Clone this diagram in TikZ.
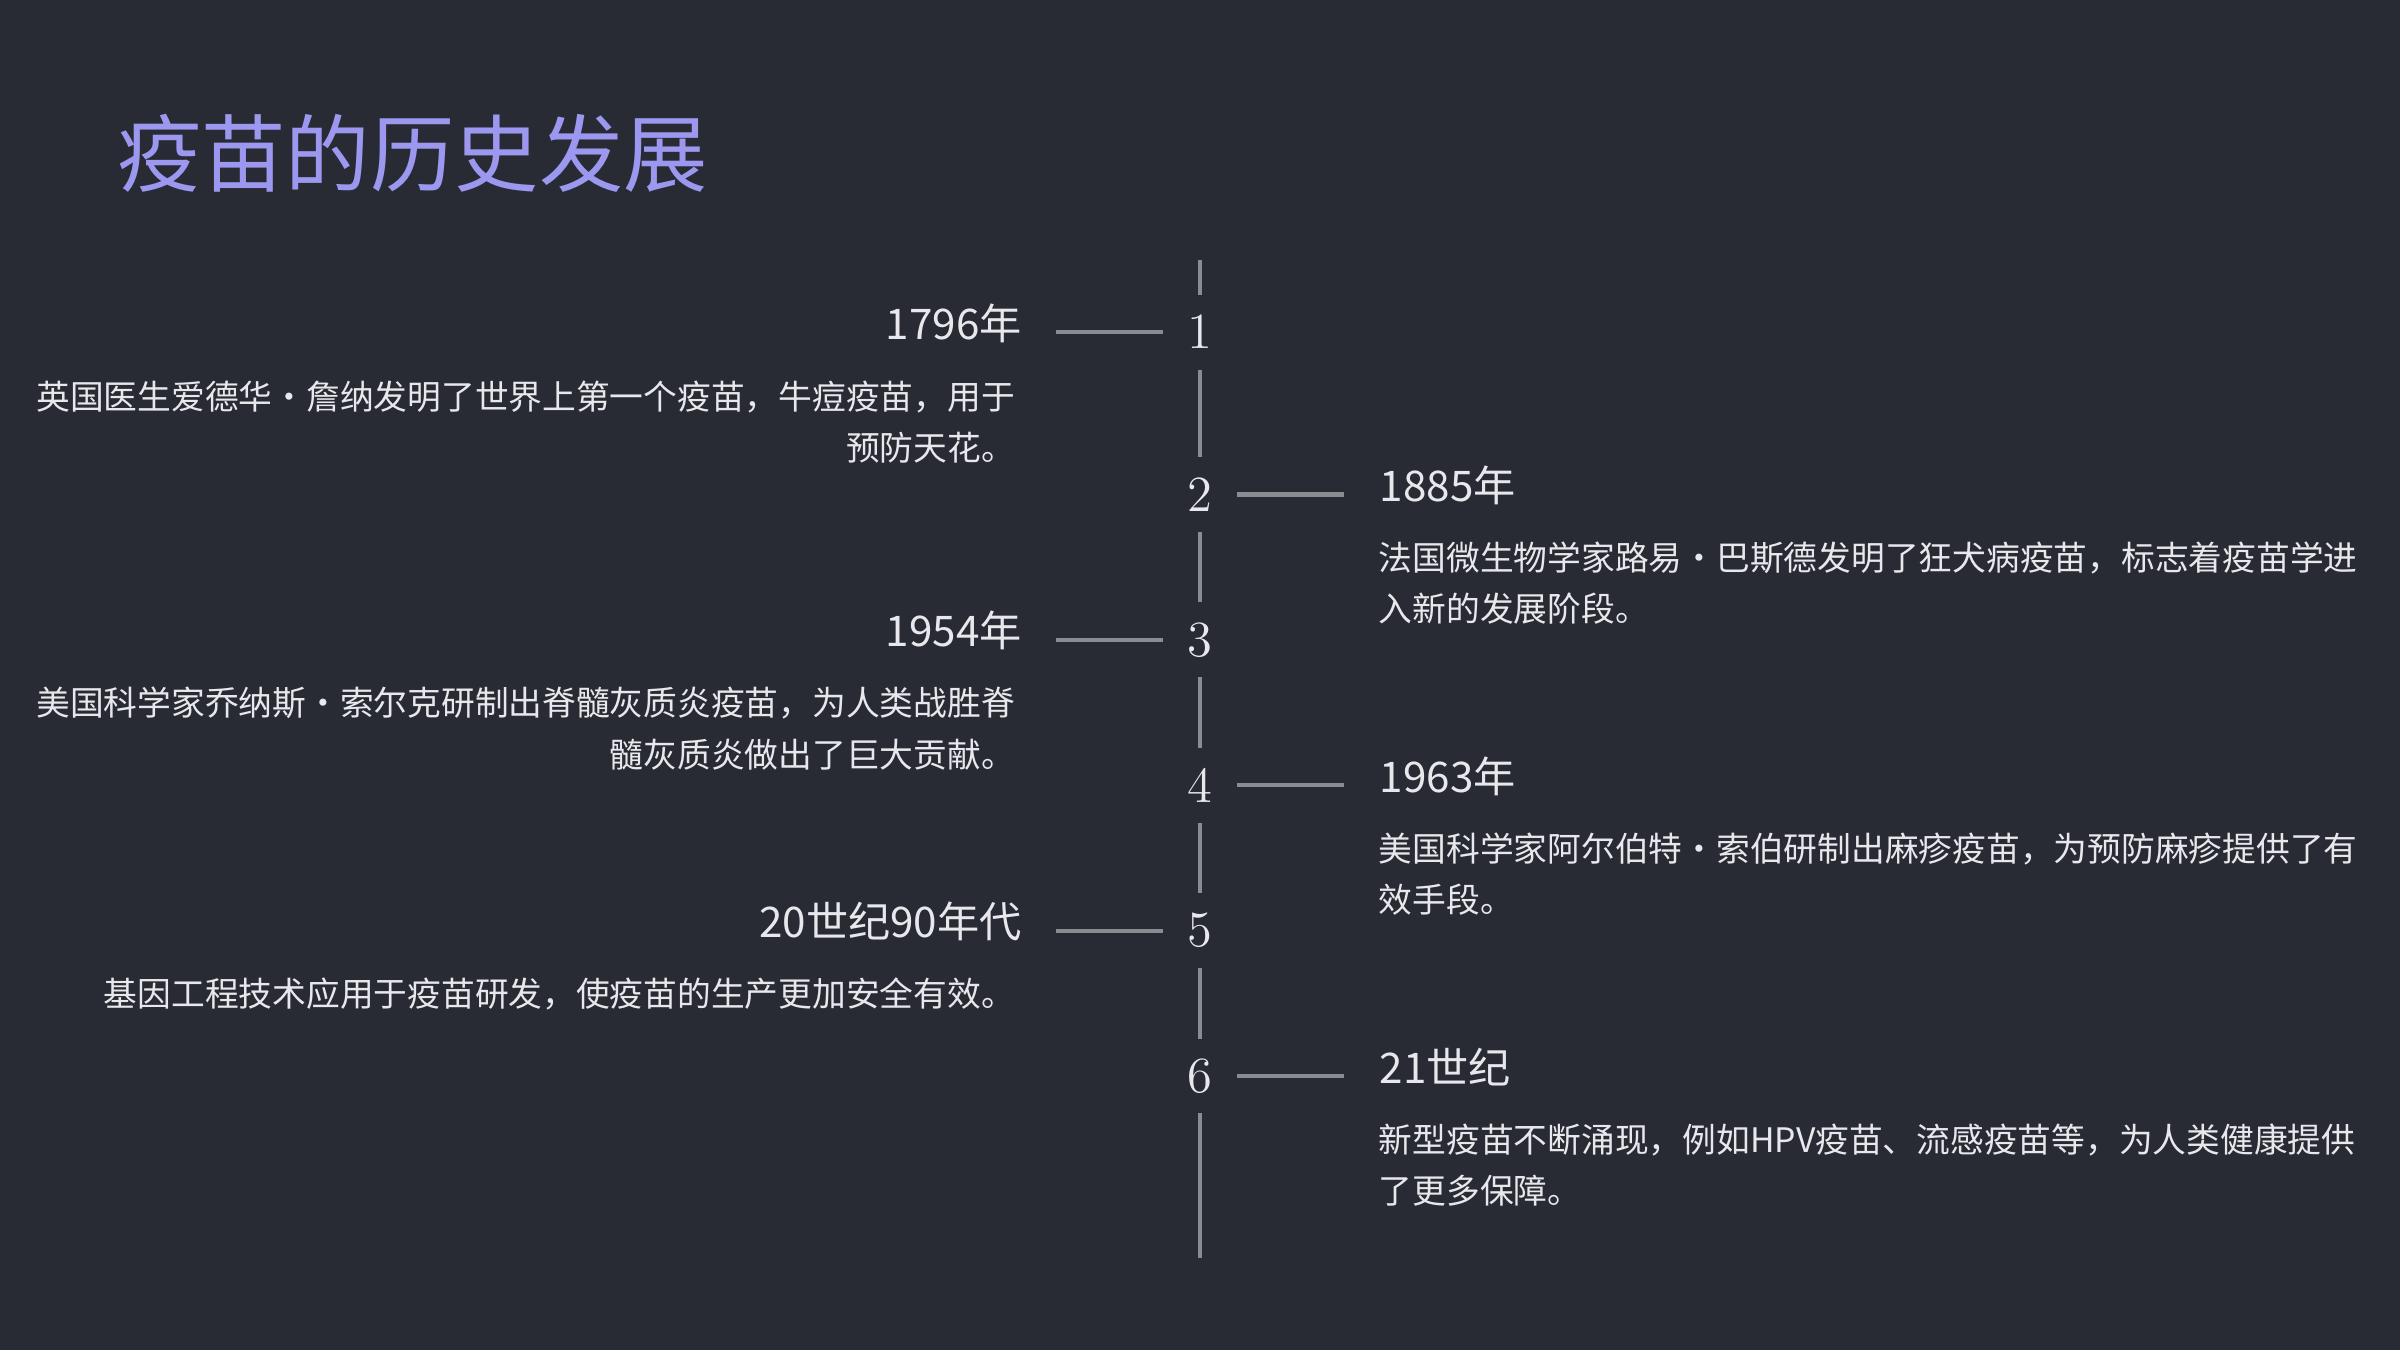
\documentclass[tikz,border=0pt]{standalone}
\usepackage{fontspec}
\newfontfamily\cjk{Noto Sans CJK SC}
\usetikzlibrary{positioning}
\definecolor{bgdark}{HTML}{282B34}
\definecolor{titleblue}{HTML}{9C98F0}
\definecolor{linegray}{HTML}{8A8C92}
\definecolor{textlight}{HTML}{E8E8EC}
\begin{document}
\begin{tikzpicture}[x=0.015306cm,y=-0.015306cm,
                    thick,
                    num node/.style={text=textlight,font=\Large,minimum height=0.72cm,inner sep=0pt},
                    year node/.style={text=textlight,font=\cjk\large},
                    desc left/.style={text=textlight,font=\cjk\fontsize{9.6}{14.6}\selectfont,align=right,anchor=north east,inner sep=0pt},
                    desc right/.style={text=textlight,font=\cjk\fontsize{9.6}{14.6}\selectfont,align=left,anchor=north west,inner sep=0pt},
                    tline/.style={draw=linegray,line width=1.2pt}]

 \fill[bgdark] (0,0) rectangle (1568,882);

 \node[text=titleblue,font=\cjk\fontsize{24}{28}\selectfont,anchor=west] (title) at (68,100) {疫苗的历史发展};

 \coordinate (top) at (784,170);
 \coordinate (bottom) at (784,822);

 \node[num node] (1) at (784,217) {1};
 \node[num node] (2) at (784,323) {2};
 \node[num node] (3) at (784,418) {3};
 \node[num node] (4) at (784,513) {4};
 \node[num node] (5) at (784,608) {5};
 \node[num node] (6) at (784,703) {6};

 \draw[tline] (top) -- (1.north);
 \draw[tline] (1.south) -- (2.north);
 \draw[tline] (2.south) -- (3.north);
 \draw[tline] (3.south) -- (4.north);
 \draw[tline] (4.south) -- (5.north);
 \draw[tline] (5.south) -- (6.north);
 \draw[tline] (6.south) -- (bottom);

 % left items
 \node[year node,anchor=east] (y1) at (676,211) {1796年};
 \node[desc left] (d1) at (664,248) {英国医生爱德华·詹纳发明了世界上第一个疫苗，牛痘疫苗，用于\\预防天花。};
 \node[year node,anchor=east] (y3) at (676,412) {1954年};
 \node[desc left] (d3) at (664,448) {美国科学家乔纳斯·索尔克研制出脊髓灰质炎疫苗，为人类战胜脊\\髓灰质炎做出了巨大贡献。};
 \node[year node,anchor=east] (y5) at (676,602) {20世纪90年代};
 \node[desc left] (d5) at (664,638) {基因工程技术应用于疫苗研发，使疫苗的生产更加安全有效。};

 % right items
 \node[year node,anchor=west] (y2) at (893,317) {1885年};
 \node[desc right] (d2) at (900,353) {法国微生物学家路易·巴斯德发明了狂犬病疫苗，标志着疫苗学进\\入新的发展阶段。};
 \node[year node,anchor=west] (y4) at (893,507) {1963年};
 \node[desc right] (d4) at (900,543) {美国科学家阿尔伯特·索伯研制出麻疹疫苗，为预防麻疹提供了有\\效手段。};
 \node[year node,anchor=west] (y6) at (893,697) {21世纪};
 \node[desc right] (d6) at (900,733) {新型疫苗不断涌现，例如HPV疫苗、流感疫苗等，为人类健康提供\\了更多保障。};

 \draw[tline] (690,217) -- (1.west -| 760,0);
 \draw[tline] (2.east -| 808,0) -- (878,323);
 \draw[tline] (690,418) -- (3.west -| 760,0);
 \draw[tline] (4.east -| 808,0) -- (878,513);
 \draw[tline] (690,608) -- (5.west -| 760,0);
 \draw[tline] (6.east -| 808,0) -- (878,703);
\end{tikzpicture}
\end{document}
